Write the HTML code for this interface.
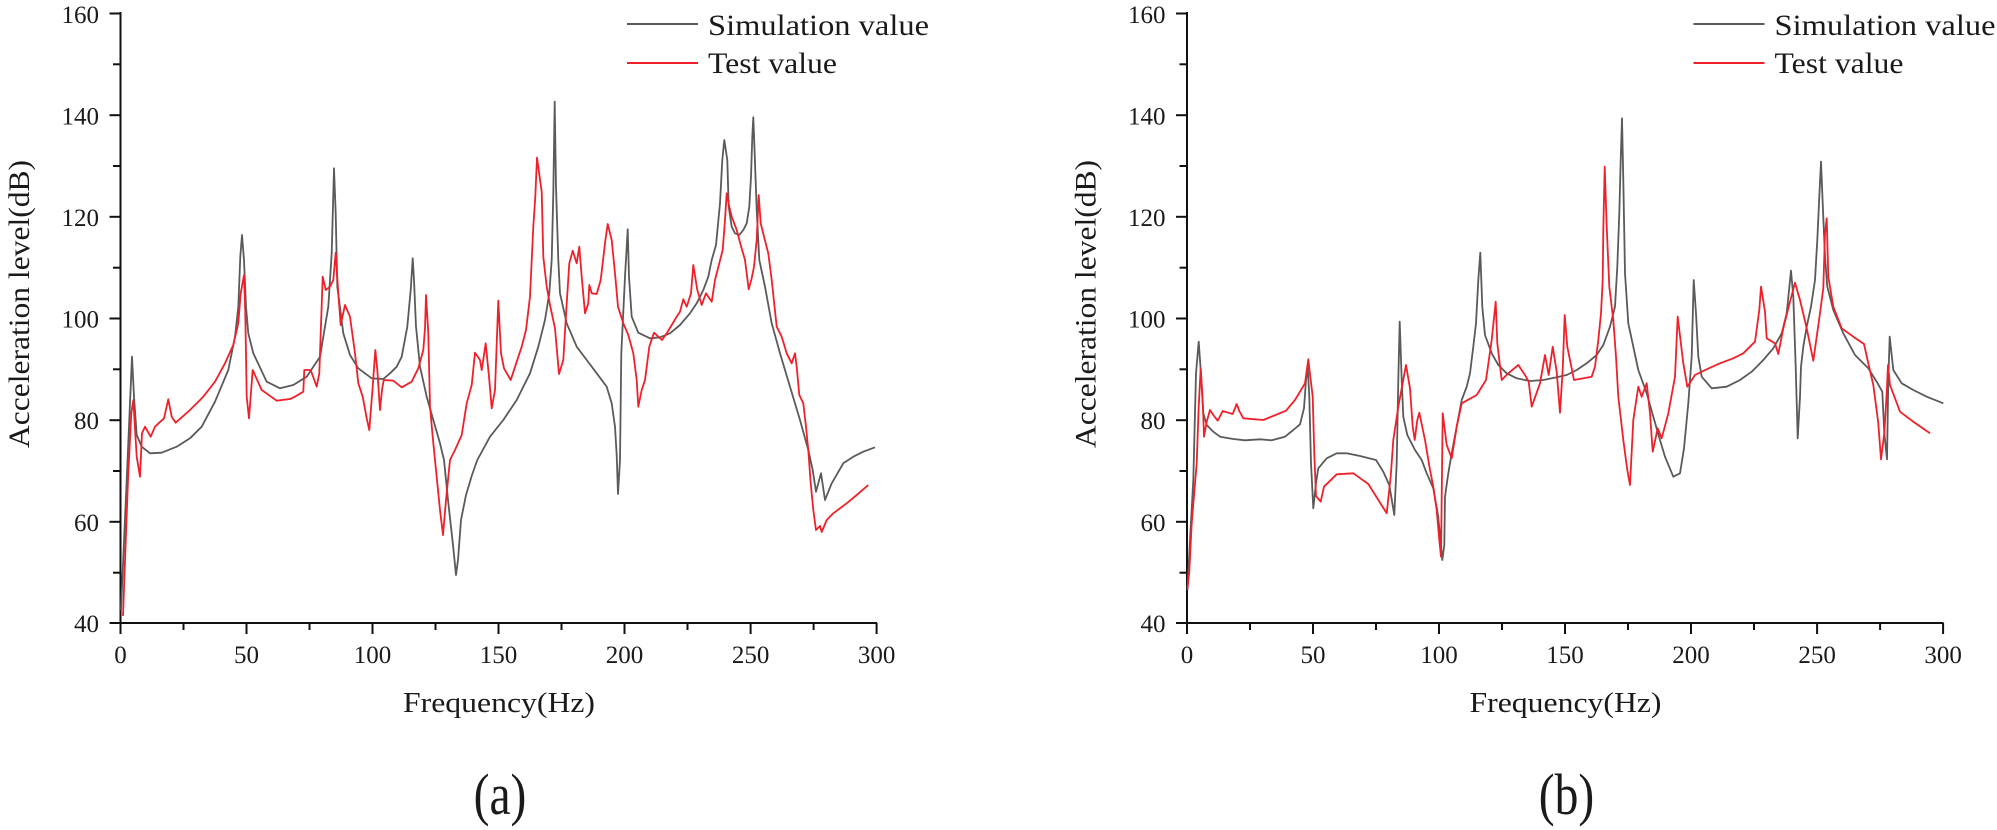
<!DOCTYPE html>
<html><head><meta charset="utf-8"><style>
html,body{margin:0;padding:0;background:#fff;}
svg{display:block;}
text{font-family:"Liberation Serif","Times New Roman",serif;fill:#1a1a1a;}
</style></head><body>
<svg width="1997" height="830" viewBox="0 0 1997 830" xmlns="http://www.w3.org/2000/svg">
<defs>
<g id="axes">
  <line x1="120.5" y1="12" x2="120.5" y2="623" stroke="#111" stroke-width="2"/>
  <line x1="120.5" y1="623" x2="877" y2="623" stroke="#111" stroke-width="2"/>
  <g stroke="#111" stroke-width="2">
    <line x1="109.5" y1="13.5" x2="120.5" y2="13.5"/><line x1="113" y1="64.3" x2="120.5" y2="64.3"/>
    <line x1="109.5" y1="115.2" x2="120.5" y2="115.2"/><line x1="113" y1="166" x2="120.5" y2="166"/>
    <line x1="109.5" y1="216.8" x2="120.5" y2="216.8"/><line x1="113" y1="267.7" x2="120.5" y2="267.7"/>
    <line x1="109.5" y1="318.5" x2="120.5" y2="318.5"/><line x1="113" y1="369.3" x2="120.5" y2="369.3"/>
    <line x1="109.5" y1="420.2" x2="120.5" y2="420.2"/><line x1="113" y1="471" x2="120.5" y2="471"/>
    <line x1="109.5" y1="521.8" x2="120.5" y2="521.8"/><line x1="113" y1="572.7" x2="120.5" y2="572.7"/>
    <line x1="109.5" y1="623" x2="120.5" y2="623"/>
    <line x1="120.5" y1="623" x2="120.5" y2="634"/><line x1="183.5" y1="623" x2="183.5" y2="630"/>
    <line x1="246.5" y1="623" x2="246.5" y2="634"/><line x1="309.5" y1="623" x2="309.5" y2="630"/>
    <line x1="372.5" y1="623" x2="372.5" y2="634"/><line x1="435.5" y1="623" x2="435.5" y2="630"/>
    <line x1="498.5" y1="623" x2="498.5" y2="634"/><line x1="561.5" y1="623" x2="561.5" y2="630"/>
    <line x1="624.5" y1="623" x2="624.5" y2="634"/><line x1="687.5" y1="623" x2="687.5" y2="630"/>
    <line x1="750.6" y1="623" x2="750.6" y2="634"/><line x1="813.6" y1="623" x2="813.6" y2="630"/>
    <line x1="876.6" y1="623" x2="876.6" y2="634"/>
  </g>
  <g font-size="25" text-anchor="end">
    <text x="99" y="23">160</text><text x="99" y="124.5">140</text><text x="99" y="226">120</text>
    <text x="99" y="327.5">100</text><text x="99" y="429">80</text><text x="99" y="531">60</text><text x="99" y="632">40</text>
  </g>
  <g font-size="25" text-anchor="middle">
    <text x="120.5" y="663">0</text><text x="246.5" y="663">50</text><text x="372.5" y="663">100</text>
    <text x="498.5" y="663">150</text><text x="624.5" y="663">200</text><text x="750.6" y="663">250</text><text x="876.6" y="663">300</text>
  </g>
  <text x="499" y="712" font-size="28" text-anchor="middle" textLength="192" lengthAdjust="spacingAndGlyphs">Frequency(Hz)</text>
  <text transform="translate(29,304) rotate(-90)" font-size="30" text-anchor="middle" textLength="288" lengthAdjust="spacingAndGlyphs">Acceleration level(dB)</text>
  <line x1="627" y1="24" x2="698" y2="24" stroke="#5a5a5a" stroke-width="2"/>
  <line x1="627" y1="63" x2="698" y2="63" stroke="#f0202a" stroke-width="2"/>
  <text x="708" y="35" font-size="30" textLength="221" lengthAdjust="spacingAndGlyphs">Simulation  value</text>
  <text x="708" y="73" font-size="30" textLength="129" lengthAdjust="spacingAndGlyphs">Test value</text>
</g>
</defs>
<use href="#axes"/>
<use href="#axes" transform="translate(1066.5,0)"/>
<text transform="translate(500,814) scale(0.82,1)" font-size="58" text-anchor="middle">(a)</text>
<text transform="translate(1566.5,814) scale(0.82,1)" font-size="58" text-anchor="middle">(b)</text>

<g fill="none" stroke-width="1.8" stroke-linejoin="round">
<polyline stroke="#5a5a5a" points="121,610 126.7,480 132,356.7 134,396.7 136.7,435 141.7,446.7 150,453.3 161.7,452.7 176.7,446.7 190,438.3 201.7,426.7 215,401.7 228.3,370 235,336.7 238.3,306.7 240.3,256.7 242,235 244,260 246,306.7 248.3,333.3 253.3,353.3 266.7,381.7 280,388.3 293.3,385 306.7,376.7 320,356.7 328.3,306.7 331.7,253.3 334,168.3 335.7,213.3 337.3,286.7 343.3,333.3 350,355 358.3,368.3 371.7,378.3 383.3,379 390,373.3 396.7,366.7 401.7,356.7 407.3,326.7 410.7,290 412.7,258.3 414,280 416,326.7 420,366.7 426.7,396.7 433.3,420 440,443.3 444,460 448,500 453,545 456,575 458,560 461,520 466,495 472,475 477.3,460 490,436.7 503.3,420 516.7,400 530,373.3 538.3,346.7 545,320 549.3,293.3 551.7,260 553.3,193.3 554.7,101.7 556,186.7 558.3,260 560,293.3 566.7,323.3 576.7,346.7 586.7,360 596.7,373.3 606.7,386.7 611.7,403.3 615,426.7 616.7,455 618,494 620,460 621.3,353.3 625,276.7 627.7,229.3 629,276.7 631.7,316.7 638.3,332.7 650,338.3 660,337.3 670,333.3 680,325 690,313.3 696.7,303.3 703.3,290 708.3,276.7 711.7,260 716,245 720,203.3 722.3,160 724.3,140 727.3,160 728.7,206.7 731.7,226.7 735,233.3 739.3,235 743.3,230 746.7,223.3 749.3,206.7 751,176.7 752.3,136.7 753.3,117.3 754.3,143.3 756.7,210 759.3,260 765,286.7 771.7,323.3 780,353.3 790,386.7 800,420 808.3,450 812.7,470 816,491.7 821,473.3 825,500 831.7,483.3 843.3,463.3 853.3,456.7 863.3,451.7 875,447.3"/>
<polyline stroke="#f0202a" points="123,616 128,480 131.3,413.3 133.3,400 136.7,456.7 140,476.7 142,433.3 145,426.7 150.7,436.7 155,426.7 164,418.3 168.3,399.3 171.7,416.7 175.7,422.7 190,410 203.3,396.7 215,381.7 225,363.3 233.3,345 238.3,323.3 240.7,293.3 244,275 245.3,313.3 246.7,396.7 249,418.3 252.7,370 261.7,390 276.7,400.7 290,399 295,396.7 303.3,391.7 304.3,370 310.7,370 316.7,386.7 319.3,373.3 322.7,276.7 325.7,290 330,286.7 333.3,280 335.7,252.7 338.3,293.3 340.7,325 345,305 350,316.7 355,353.3 358.3,383.3 362.7,396.7 366.7,418.3 369.3,430 372.7,386.7 375.3,350 377.3,370 380,410 382,390 383.7,380 393.3,380.7 401.7,387.3 411.7,381.7 418.3,368.3 423.3,350 425,328.3 426,295 428.3,333.3 430,406.7 432.7,436.7 435,460 440,510 443,535 446,500 450,460 455,450 461.7,435 466.7,403.3 471.7,385 475,352.7 480,360 481.7,370 485.7,343.3 489.3,380 491.7,408.3 495,390 498.3,300.7 501,353.3 504,368.3 510.7,380 516.7,361.7 521.7,346.7 526,330 530,296.7 533.3,226.7 535.3,196.7 537,157.7 541.7,191.7 543.3,256.7 546.7,286.7 550,305 555,328.3 559,374 563.3,360 566.7,303.3 569.3,263.3 572.7,250.7 576.7,263.3 579.3,246.7 581.7,276.7 585,313.3 588.3,303.3 589.3,285 591.7,293.3 596.7,294 600.7,280 605,243.3 607.7,224 611.7,240 615,273.3 618,306.7 623.3,323.3 628.3,335 633.3,353.3 636.7,380 638.3,406.7 641.7,390 645,380 649.3,346.7 654,332.7 658.3,336.7 662,340 666.7,333.3 671.7,325 676.7,316.7 680,311.7 683.3,299.3 686.7,306.7 691,293.3 693.3,265 697.3,290 701.7,305 706,293.3 711.7,301.7 715,280 719.3,263.3 722.7,250 725,220 726.7,193.3 729.3,206.7 731.7,216.7 736.7,230 740.7,245 745,260 748.7,289.3 751.7,278.3 754,266.7 756.7,240 758.7,195 760.7,223.3 764,236.7 768.3,253.3 771.7,280 776.7,326.7 781.7,336.7 786.7,353.3 791.7,363.3 795,353.3 796.7,366.7 799.3,395 803.3,403.3 806,426.7 808.3,450 810.7,483.3 813.3,510 816,530 820,526 821.7,532 826.7,520 833.3,513.3 846.7,503.3 856.7,495 868.3,485"/>

<polyline stroke="#5a5a5a" points="1187.5,590 1190,540 1193.3,480 1196,373.3 1198.7,341.7 1200.7,370 1203.3,413.3 1206.7,425 1213.3,431.7 1220,436.7 1233.3,439 1245,440.3 1260,439.3 1271.7,440.3 1285,436.7 1293.3,430 1300,424.3 1304,408.3 1306,380 1307.7,366.7 1309.3,396.7 1311,463.3 1313.3,508.3 1316,483.3 1318.3,468.3 1326.7,458.3 1336.7,453.3 1346.7,453.3 1360,456 1376,460 1383.3,471.7 1389.3,485 1394.3,515 1396.7,463.3 1398.3,380 1399.7,321.7 1401.7,380 1403.3,416.7 1407.3,435 1415,450 1421.7,460 1426.7,473.3 1433.3,488.3 1438,515 1440,535 1442.3,560 1444.3,545 1445,496.7 1448.3,473.3 1451.7,453.3 1456.7,426.7 1461.7,400 1466.7,386.7 1470,373.3 1473.3,346.7 1476,323.3 1478.3,280 1480.3,252.7 1482.3,306.7 1485,335 1491.7,353.3 1498.3,365 1506.7,373.3 1516.7,378.3 1530,381 1543.3,380 1556.7,377.3 1566.7,375 1576.7,370 1586.7,363.3 1596.7,355 1603.3,345 1610,326.7 1615,306.7 1617.3,266.7 1619.3,213.3 1620.7,160 1622,118.3 1623.3,180 1625,273.3 1628.3,323.3 1633.3,346.7 1638.3,370 1646.7,393.3 1653.3,416.7 1660,440 1665,456.7 1673.3,476.7 1680,473.3 1684,448.3 1688.3,403.3 1691.7,356.7 1693.7,280 1696,313.3 1698.3,356.7 1701.7,376.7 1711.7,388.3 1726.7,386.7 1740,380 1751.7,371.7 1763.3,360 1773.3,348.3 1781.7,333.3 1786.7,313.3 1791,270.7 1793.3,296.7 1795.7,366.7 1797.7,438.3 1800,396.7 1801,366.7 1803.3,346.7 1806.7,326.7 1811,306.7 1815,280 1817.3,240 1819.3,196.7 1821,161.7 1822.7,203.3 1825,256.7 1827.3,286.7 1833.3,310 1843.3,333.3 1855,355 1868.3,368.3 1876.7,381.7 1882.3,391.7 1884.3,433.3 1887,459.3 1888.3,380 1889.7,336.7 1893.3,370 1901.7,383.3 1913.3,390 1926.7,396.7 1943.3,403.3"/>
<polyline stroke="#f0202a" points="1187.5,588 1189.3,571.7 1191.7,523.3 1196.7,463.3 1198.7,406.7 1200.7,368.3 1202.7,400 1204,436.7 1206.7,421.7 1210,410 1213.3,415 1217.7,420.7 1222.7,411 1228.3,412.7 1232.7,414 1236.7,404 1239.3,411 1243.3,418.3 1263.3,420 1286,410.7 1295,400 1305,383.3 1308.3,359.3 1310.7,380 1312.7,396.7 1314.3,453.3 1316,496 1320.7,501.7 1324,486.7 1336.7,474.3 1353.3,473.3 1368.3,484 1386.7,513.3 1390.7,476.7 1393.3,440 1398.3,406.7 1406,365 1410,388.3 1412.7,426.7 1414.7,440 1417.3,420 1419.3,412.7 1425,440 1430,470 1433.3,486.7 1436.7,510 1439.3,540 1441,556.7 1442.7,413.3 1446.7,445 1451.7,458.3 1456.7,426.7 1461.7,403.3 1476.7,395 1486,380 1491.7,340 1495.7,301.7 1497.3,343.3 1501.7,380 1508.3,373.3 1518.3,365 1525,375 1528.7,381.7 1531.7,406.7 1540,383.3 1545,355 1548.7,375 1552.7,346.7 1556.7,371.7 1560,412.7 1562.7,370 1564.7,315 1567.3,346.7 1574,380 1591.7,376.7 1595,366.7 1598.3,340 1601,313.3 1602.7,280 1603.3,230 1604.7,166.7 1606.7,226.7 1609.3,286.7 1613.3,320 1616,356.7 1618.3,396.7 1623.3,440 1627.3,470 1630,485 1633.3,420 1638.3,386.7 1641.7,396.7 1646.7,383.3 1650,413.3 1652.7,451.7 1657.7,428.3 1661.7,438.3 1668.3,413.3 1675,376.7 1677.7,316.7 1681.7,350 1683.3,363.3 1687.3,386.7 1695,375 1706.7,369.3 1720,363.3 1733.3,358.3 1743.3,353.3 1755,341.7 1759.3,310 1761,286.7 1765,311.7 1766.7,338.3 1775,343.3 1778.3,354 1783.3,328.3 1788.3,308.3 1795,282.7 1800,300 1806.7,328.3 1813.3,360.7 1816.7,336.7 1820,313.3 1823.3,288.3 1825,233.3 1826.7,218.3 1828.3,276.7 1833.3,306.7 1841.7,328.3 1853.3,336.7 1864,344 1868.3,363.3 1873.3,385 1878.3,423.3 1881,459.3 1884.3,433.3 1886.7,393.3 1888,365 1890,385 1895,398.3 1900,411.7 1913.3,421.7 1930,433.3"/>
</g>
</svg>
</body></html>
